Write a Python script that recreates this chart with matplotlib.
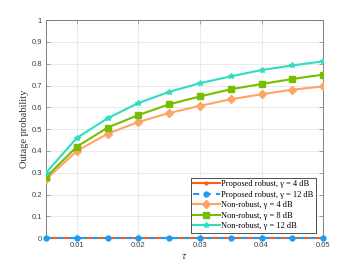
import matplotlib
matplotlib.use("Agg")
import matplotlib.pyplot as plt

tau = [0.005, 0.01, 0.015, 0.02, 0.025, 0.03, 0.035, 0.04, 0.045, 0.05]
robust_4 = [0, 0, 0, 0, 0, 0, 0, 0, 0, 0]
robust_12 = [0, 0, 0, 0, 0, 0, 0, 0, 0, 0]
nonrobust_4 = [0.27, 0.40, 0.479, 0.533, 0.574, 0.607, 0.637, 0.660, 0.681, 0.696]
nonrobust_8 = [0.28, 0.42, 0.507, 0.565, 0.614, 0.650, 0.683, 0.707, 0.730, 0.750]
nonrobust_12 = [0.30, 0.46, 0.55, 0.62, 0.671, 0.711, 0.742, 0.771, 0.792, 0.811]

labels = ["Proposed robust, γ = 4 dB", "Proposed robust, γ = 12 dB",
          "Non-robust, γ = 4 dB", "Non-robust, γ = 8 dB",
          "Non-robust, γ = 12 dB"]

plt.rcParams['mathtext.fontset'] = 'stix'

fig = plt.figure(figsize=(3.57, 2.68), dpi=100)
ax = fig.add_axes([0.129, 0.111, 0.776, 0.814])

lw = 1.5
ax.plot(tau, nonrobust_4, color='#FFA468', lw=lw, marker='D', ms=4.5, label=labels[2], zorder=3)
ax.plot(tau, nonrobust_8, color='#77BE00', lw=lw, marker='s', ms=4.5, label=labels[3], zorder=3)
ax.plot(tau, nonrobust_12, color='#2FDDC0', lw=lw, marker='*', ms=4, label=labels[4], zorder=3)
ax.plot(tau, robust_4, color='#FF5A1E', lw=lw, marker='.', ms=4, label=labels[0], zorder=4, clip_on=False)
ax.plot(tau, robust_12, color='#1E9CF0', lw=lw, ls=(0, (3, 2.5)), marker='o', ms=3.5, label=labels[1], zorder=5, clip_on=False)

ax.set_xlim(0.005, 0.05)
ax.set_ylim(0, 1)
ax.set_xticks([0.01, 0.02, 0.03, 0.04, 0.05])
ax.set_xticklabels(['0.01', '0.02', '0.03', '0.04', '0.05'])
ax.set_yticks([i / 10 for i in range(11)])
ax.set_yticklabels(['0', '0.1', '0.2', '0.3', '0.4', '0.5', '0.6', '0.7', '0.8', '0.9', '1'])
ax.grid(True, color='#E6E6E6', lw=0.6)
ax.set_axisbelow(True)
for s in ax.spines.values():
    s.set_color('#808080')
    s.set_linewidth(0.7)
ax.tick_params(direction='in', length=3, width=0.5, color='#808080', labelsize=5.5,
               labelcolor='#404040', top=True, right=True, pad=3)
for t in ax.get_xticklabels() + ax.get_yticklabels():
    t.set_fontfamily('Liberation Sans')

ax.set_ylabel('Outage probability', family='Liberation Serif', fontsize=7.5, color='#333333', labelpad=2)
ax.set_xlabel('$\\tau$', fontsize=7.5, color='#333333', labelpad=1)

h, l = ax.get_legend_handles_labels()
order = [3, 4, 0, 1, 2]
leg = ax.legend([h[i] for i in order], [l[i] for i in order], loc='lower right',
                bbox_to_anchor=(0.975, 0.025), prop={'family': 'Liberation Serif', 'size': 6},
                fancybox=False, edgecolor='#333333', framealpha=1, handlelength=3.2,
                handletextpad=0.2, borderpad=0.3, labelspacing=0.3, borderaxespad=0)
leg.get_frame().set_linewidth(0.6)

fig.savefig('out.png', dpi=100)
